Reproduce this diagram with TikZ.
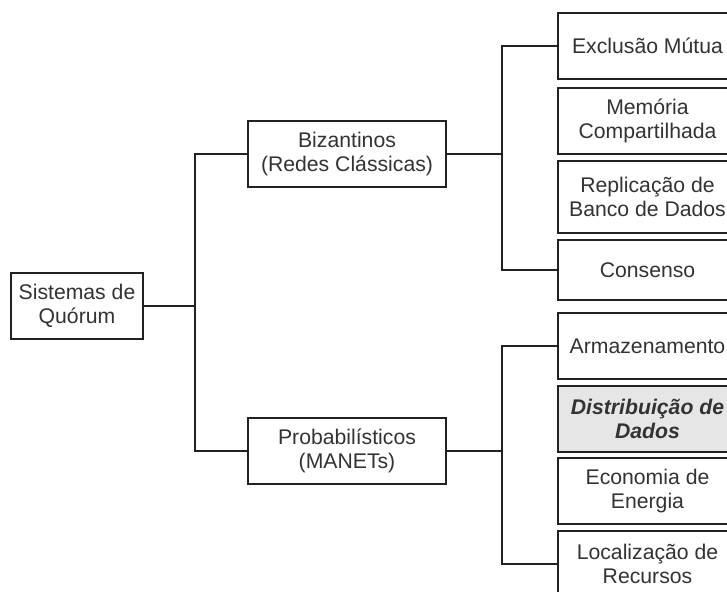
\documentclass[tikz,border=0pt]{standalone}
\usepackage{fontspec}
\setmainfont{Liberation Sans}
\usepackage{tikz}
\usepackage{xcolor}
\definecolor{quorumtext}{RGB}{51, 51, 51}
\definecolor{quorumline}{RGB}{34, 34, 34}
\definecolor{quorumfill}{RGB}{230, 230, 230}

\tikzset{
  box/.style={draw=quorumline, line width=0.6pt, fill=white, text=quorumtext, align=center,
    inner sep=0pt, font=\fontsize{10.6}{11.8}\selectfont},
  rootbox/.style={box, minimum width=66pt, minimum height=33pt},
  midbox/.style={box, minimum width=99pt, minimum height=33pt},
  leafbox/.style={box, minimum width=89.5pt, minimum height=33pt},
  link/.style={draw=quorumline, line width=0.6pt}
}

\begin{document}
\begin{tikzpicture}[x=0.5pt, y=-0.5pt]
\useasboundingbox (0,0) rectangle (727,592);
\clip (0,0) rectangle (727,592);

% root and first level
\node[rootbox] (root) at (77,306) {Sistemas de\\Quórum};
\node[midbox] (biz) at (347,154) {Bizantinos\\(Redes Clássicas)};
\node[midbox] (prob) at (347,451) {Probabilísticos\\(MANETs)};

% leaves, upper group
\node[leafbox] (excl) at (647.5,46) {Exclusão Mútua};
\node[leafbox] (mem) at (647.5,121) {Memória\\Compartilhada};
\node[leafbox, minimum height=36pt] (repl) at (647.5,197) {Replicação de\\Banco de Dados};
\node[leafbox, minimum height=30pt] (cons) at (647.5,270) {Consenso};

% leaves, lower group
\node[leafbox] (armz) at (647.5,346) {Armazenamento};
\node[leafbox, fill=quorumfill, font=\fontsize{10.6}{11.8}\selectfont\bfseries\itshape] (dist) at (647.5,419) {Distribuição de\\Dados};
\node[leafbox] (econ) at (647.5,491) {Economia de\\Energia};
\node[leafbox] (loc) at (647.5,564) {Localização de\\Recursos};

% junctions
\coordinate (jroot) at (195,306);
\coordinate (jbiz) at (502,154);
\coordinate (jprob) at (502,451);

% connectors
\draw[link] (root.east) -- (jroot);
\draw[link] (biz.west) -| (jroot) |- (prob.west);
\draw[link] (biz.east) -- (jbiz);
\draw[link] (excl.west) -| (jbiz) |- (cons.west);
\draw[link] (prob.east) -- (jprob);
\draw[link] (armz.west) -| (jprob) |- (loc.west);
\end{tikzpicture}
\end{document}
